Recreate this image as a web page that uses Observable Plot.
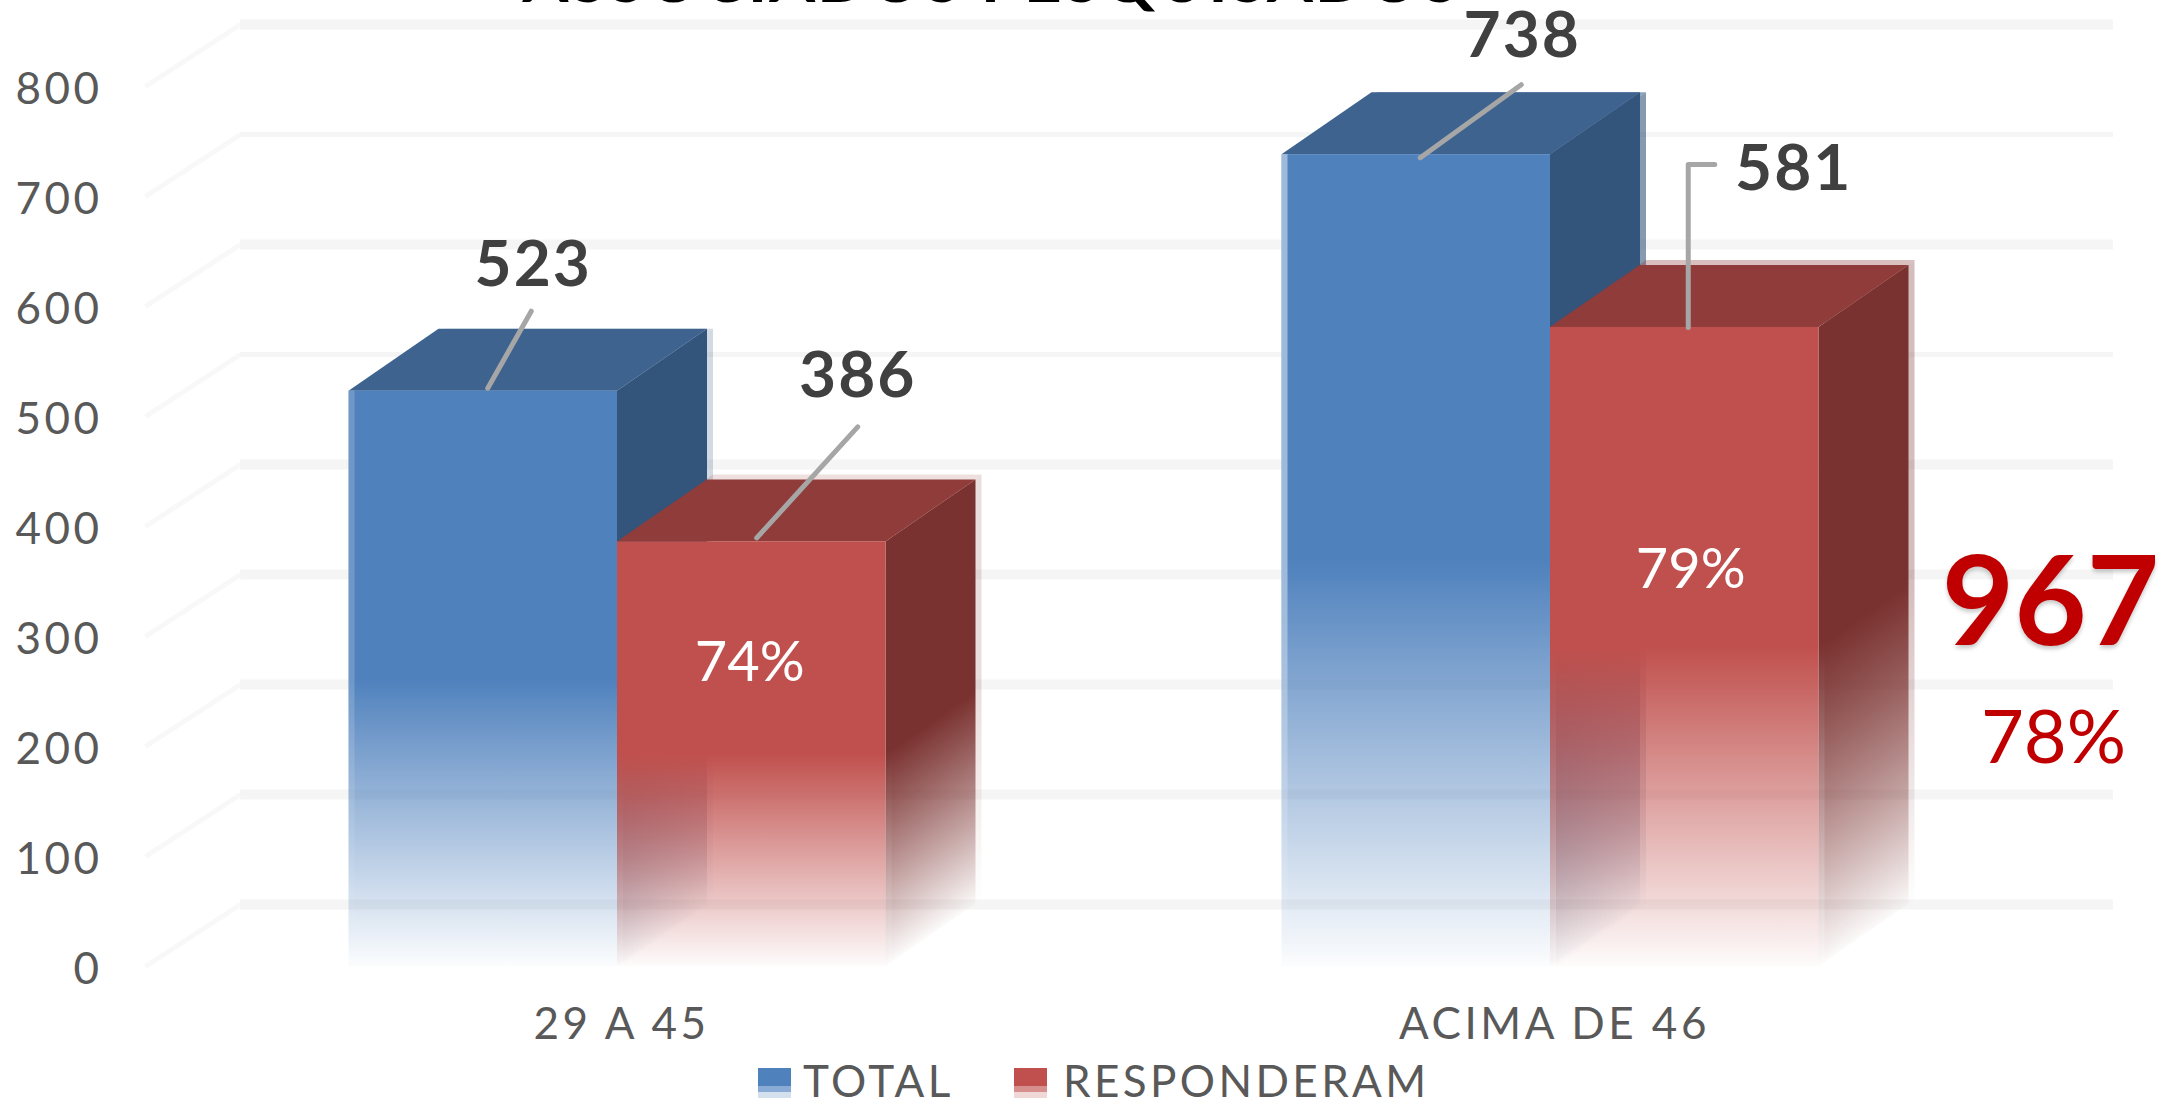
<!DOCTYPE html>
<html>
<head>
<meta charset="utf-8">
<script src="https://cdn.jsdelivr.net/npm/d3@7"></script>
<script src="https://cdn.jsdelivr.net/npm/@observablehq/plot@0.6"></script>
<style>
html,body{margin:0;padding:0;background:#fff;overflow:hidden;width:2164px;height:1102px}
#chart svg{display:block;overflow:visible;background:transparent}
text{font-family:Lato,sans-serif}
.spaced text{letter-spacing:3.5px}
.labels text{letter-spacing:2px}
.titleText text{letter-spacing:2px}
.big text{text-shadow:0 3px 4px rgba(0,0,0,.22)}
#legend{position:absolute;left:0;top:1062px;width:2164px;height:40px;font:44px Lato,sans-serif;color:#595959;letter-spacing:3.4px}
#legend span{position:absolute;line-height:36px;top:0}
#legend i{position:absolute;top:6px;width:33px;height:30px}
</style>
</head>
<body>
<div id="chart"></div>
<div id="legend"></div>
<script>
const categories = ["29 A 45", "ACIMA DE 46"];
const seriesNames = ["TOTAL", "RESPONDERAM"];
const totalValues = [523, 738];
const respondedValues = [386, 581];
const percentLabels = ["74%", "79%"];
const yTicks = [0, 100, 200, 300, 400, 500, 600, 700, 800];
const grandTotal = "967";
const grandPercent = "78%";
const chartTitle = "ASSOCIADOS PESQUISADOS";

// geometry of the pseudo-3D box, in scale units
const pxX = 933, pxY = 1.1;
const barW = 268.5 / pxX, depthX = 90 / pxX, depthV = 62 / pxY;
const U = px => px / pxX, V = px => px / pxY;

const palette = {
  blue: {front: "#4f81bd", side: "#34557b", top: "#3e638f"},
  red: {front: "#c0504d", side: "#7a3230", top: "#8f3c3a"}
};

const bars = [
  {id: "b0", x: 0 - barW, v: totalValues[0], c: palette.blue, halo: .22, edge: .18, haloY: 0},
  {id: "r0", x: 0, v: respondedValues[0], c: palette.red, halo: .16, edge: 0, haloY: -5},
  {id: "b1", x: 1 - barW, v: totalValues[1], c: palette.blue, halo: .6, edge: .45, haloY: 0},
  {id: "r1", x: 1, v: respondedValues[1], c: palette.red, halo: .32, edge: 0, haloY: -5}
];

function stops(color, a, b) {
  return `<stop offset="${a}" stop-color="${color}" stop-opacity="1"/><stop offset="${b}" stop-color="${color}" stop-opacity="0.02"/>`;
}
function defs() {
  const ns = "http://www.w3.org/2000/svg";
  const el = document.createElementNS(ns, "defs");
  let h = "";
  for (const b of bars) {
    const s = 62 / (b.v * pxY + 62), n = 1 + s * s;
    h += `<linearGradient id="f-${b.id}" x1="0" y1="0" x2="0" y2="1">${stops(b.c.front, 0.5, 1)}</linearGradient>`;
    h += `<linearGradient id="s-${b.id}" x1="${s * s / n}" y1="${s / n}" x2="${s / n}" y2="${1 / n}">${stops(b.c.side, 0.5, 1)}</linearGradient>`;
    h += `<linearGradient id="w-${b.id}" x1="0" y1="0" x2="0" y2="1"><stop offset="0.5" stop-color="#fff" stop-opacity="${b.edge}"/><stop offset="1" stop-color="#fff" stop-opacity="0"/></linearGradient>`;
  }
  el.innerHTML = h;
  return el;
}

const sideShape = b => [
  {x: b.x + barW, y1: 0, y2: b.v},
  {x: b.x + barW + depthX, y1: depthV, y2: b.v + depthV}
];
const topShape = b => [
  {x: b.x, y1: b.v, y2: b.v},
  {x: b.x + depthX, y1: b.v, y2: b.v + depthV},
  {x: b.x + barW, y1: b.v, y2: b.v + depthV},
  {x: b.x + barW + depthX, y1: b.v + depthV, y2: b.v + depthV}
];

const barMarks = bars.flatMap(b => {
  const area = (data, o) => Plot.area(data, {x1: "x", y1: "y1", y2: "y2", ...o});
  return [
    area(sideShape(b), {fill: `url(#s-${b.id})`, fillOpacity: b.halo, dx: 6, dy: b.haloY}),
    area(topShape(b), {fill: b.c.top, fillOpacity: b.halo, dx: 6, dy: b.haloY}),
    area(sideShape(b), {fill: `url(#s-${b.id})`}),
    area(topShape(b), {fill: b.c.top}),
    Plot.rect([b], {x1: d => d.x, x2: d => d.x + barW, y1: 0, y2: d => d.v, fill: `url(#f-${b.id})`}),
    Plot.rect([b], {x1: d => d.x, x2: d => d.x + U(6), y1: 0, y2: d => d.v, fill: `url(#w-${b.id})`})
  ];
});

const gridW = v => (v === 700 || v === 500) ? 5 : 10;

// data labels and leaders: offsets in pixels from the top centre of each bar's front face
const callouts = [
  {text: "523", x: -barW / 2, v: totalValues[0], lx: 50, ly: -126, path: [[4.5, -3], [48, -80]]},
  {text: "386", x: barW / 2, v: respondedValues[0], lx: 106, ly: -165, path: [[5, -4], [106, -115]]},
  {text: "738", x: 1 - barW / 2, v: totalValues[1], lx: 106, ly: -118, path: [[4, 3], [105, -70]]},
  {text: "581", x: 1 + barW / 2, v: respondedValues[1], lx: 109, ly: -158, path: [[3.5, 0], [3.5, -163], [30, -163]]}
];
const leaderData = callouts.flatMap((c, i) => c.path.map(([dx, dy]) => ({i, x: c.x + U(dx), y: c.v - V(dy)})));
const percentMarks = percentLabels.map((t, i) => ({t, x: i + barW / 2 + U([-2, 6][i]), y: [276, 360][i]}));

const chart = Plot.plot({
  width: 2164,
  height: 1062,
  marginLeft: 110,
  marginRight: 0,
  marginTop: 0,
  marginBottom: 96,
  style: {background: "transparent", overflow: "visible"},
  x: {type: "linear", domain: [0, 1], range: [617, 1550], label: null},
  y: {domain: [0, 800], range: [966, 86], label: null},
  marks: [
    defs,
    Plot.ruleY(yTicks, {y: d => d + depthV, x1: U(240 - 617), x2: U(2113 - 617), stroke: "#f5f5f5", strokeWidth: gridW}),
    Plot.link(yTicks, {x1: U(145 - 617), y1: d => d, x2: U(240 - 617), y2: d => d + depthV, stroke: "#f8f8f8", strokeWidth: 5}),
    ...barMarks,
    Plot.axisY({ticks: yTicks, tickSize: 0, tickPadding: 8, label: null, fontSize: 44, fill: "#595959", dy: 3, className: "spaced"}),
    Plot.axisX({ticks: [0, 1], tickSize: 0, tickPadding: 41, tickFormat: i => categories[i], label: null, fontSize: 44, fill: "#595959", dx: 4, className: "spaced"}),
    Plot.line(leaderData, {x: "x", y: "y", z: "i", stroke: "#a6a6a6", strokeWidth: 5}),
    Plot.text(callouts, {x: "x", y: "v", text: "text", fontSize: 64, fontWeight: 700, fill: "#404040", className: "labels",
      render(index, scales, values, dims, ctx, next) {
        const g = next(index, scales, values, dims, ctx);
        d3.select(g).selectAll("text").attr("transform", function(_, k) {
          const i = index[k];
          return `translate(${values.x[i] + callouts[i].lx},${values.y[i] + callouts[i].ly})`;
        });
        return g;
      }}),
    Plot.text(percentMarks, {x: "x", y: "y", text: "t", fontSize: 56, fill: "#fff"}),
    Plot.text([grandTotal], {x: U(2050 - 617), y: V(966 - 604), fontSize: 125, fontWeight: 700, fill: "#c00000", className: "big"}),
    Plot.text([grandPercent], {x: U(2053 - 617), y: V(966 - 739), fontSize: 74, fill: "#c00000"}),
    Plot.text([chartTitle], {x: U(991 - 617), y: V(966 + 20), fontSize: 66, fontWeight: 700, fill: "#000", className: "titleText"})
  ]
});
document.getElementById("chart").append(chart);

// legend below the SVG
const legend = document.getElementById("legend");
const swatch = (left, c) => {
  const i = document.createElement("i");
  i.style.left = left + "px";
  i.style.background = `linear-gradient(${c[0]} 0 60%, ${c[1]} 60% 80%, ${c[2]} 80%)`;
  legend.append(i);
};
const label = (left, text) => {
  const s = document.createElement("span");
  s.style.left = left + "px";
  s.textContent = text;
  legend.append(s);
};
swatch(758, ["#4f81bd", "#8aabd6", "#d5e0ef"]);
label(803, seriesNames[0]);
swatch(1014, ["#c0504d", "#d68f8d", "#f1d8d8"]);
label(1063, seriesNames[1]);
</script>
</body>
</html>
